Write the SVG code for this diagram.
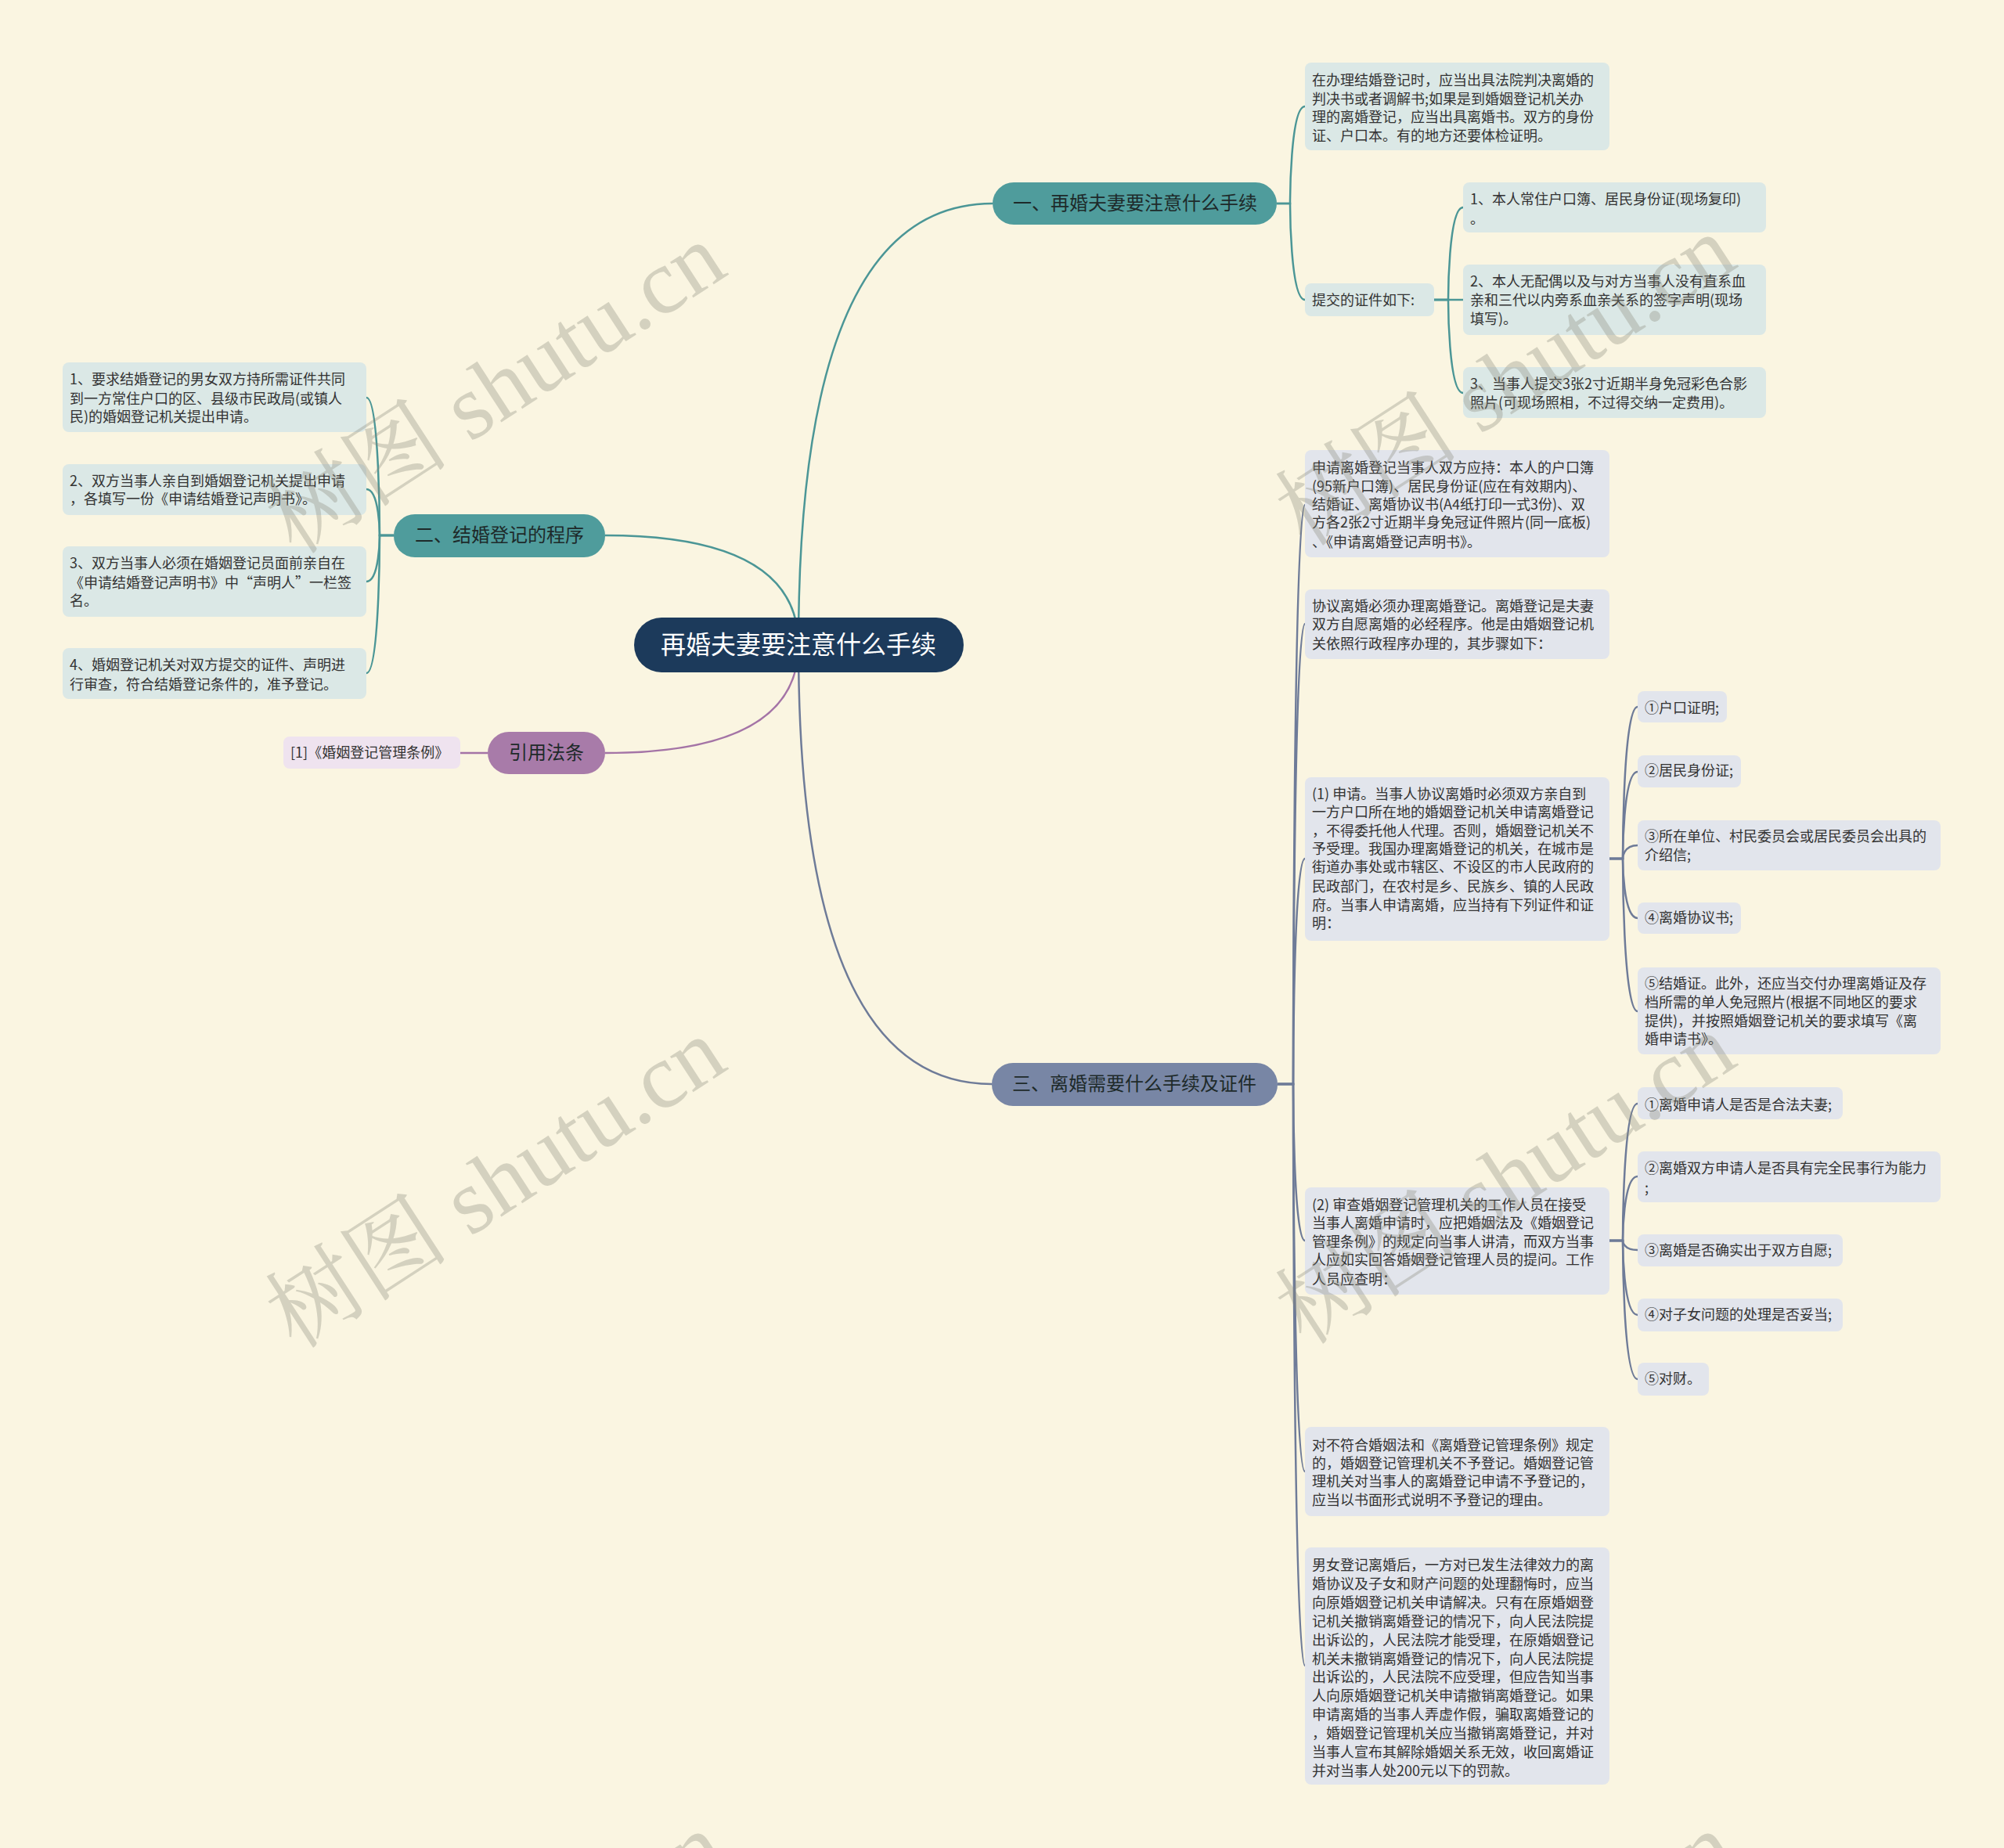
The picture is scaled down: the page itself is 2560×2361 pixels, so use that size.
<svg xmlns="http://www.w3.org/2000/svg" width="2560" height="2361" viewBox="0 0 2560 2361">
<style>
text{font-family:"Noto Sans CJK SC","Noto Sans",sans-serif}
.lf{font-size:18px;fill:#333}
.br{font-size:24px;fill:#1e2a2a;text-anchor:middle}
.rt{font-size:32px;fill:#ffffff;text-anchor:middle}
.t1{fill:#dbe8e6}
.t3{fill:#e2e5ec}
.tq{fill:#efe3ef}
.cT{fill:none;stroke:#4b9696;stroke-width:2.5}
.cS{fill:none;stroke:#6e7b98;stroke-width:2.5}
.cP{fill:none;stroke:#a474a6;stroke-width:2.5}
.wm{font-family:"Liberation Serif","Noto Serif CJK SC","Noto Sans CJK SC",serif;font-size:118px;fill:#8a8a7a;fill-opacity:0.33;text-anchor:middle}
</style>
<rect width="2560" height="2361" fill="#faf5e1"/>

<g id="connectors">
  <path class="cT" d="M1020 824 Q1020 260 1268 260"/>
  <path class="cT" d="M1020 824 Q1020 684 773 684"/>
  <path class="cP" d="M1020 824 Q1020 962 773 962"/>
  <path class="cS" d="M1020 824 Q1020 1385 1267 1385"/>
  <path class="cT" d="M1631 260 H1648 C1648 260 1648 136 1667 136"/>
  <path class="cT" d="M1631 260 H1648 C1648 260 1648 383 1667 383"/>
  <path class="cT" d="M1832 383 H1850 C1850 383 1850 265 1869 265"/>
  <path class="cT" d="M1832 383 H1869"/>
  <path class="cT" d="M1832 383 H1850 C1850 383 1850 502 1869 502"/>
  <path class="cT" d="M503 684 H485 C485 684 485 508 468 508"/>
  <path class="cT" d="M503 684 H485 C485 684 485 625 468 625"/>
  <path class="cT" d="M503 684 H485 C485 684 485 743 468 743"/>
  <path class="cT" d="M503 684 H485 C485 684 485 860 468 860"/>
  <path class="cP" d="M623 962 H588"/>
  <path class="cS" d="M1632 1385 H1652 C1652 1385 1652 645 1667 645"/>
  <path class="cS" d="M1632 1385 H1652 C1652 1385 1652 797 1667 797"/>
  <path class="cS" d="M1632 1385 H1652 C1652 1385 1652 1097 1667 1097"/>
  <path class="cS" d="M1632 1385 H1652 C1652 1385 1652 1585 1667 1585"/>
  <path class="cS" d="M1632 1385 H1652 C1652 1385 1652 1880 1667 1880"/>
  <path class="cS" d="M1632 1385 H1652 C1652 1385 1652 2128 1667 2128"/>
  <path class="cS" d="M2056 1097 H2073 C2073 1097 2073 903 2092 903"/>
  <path class="cS" d="M2056 1097 H2073 C2073 1097 2073 986 2092 986"/>
  <path class="cS" d="M2056 1097 H2073 C2073 1097 2073 1080 2092 1080"/>
  <path class="cS" d="M2056 1097 H2073 C2073 1097 2073 1173 2092 1173"/>
  <path class="cS" d="M2056 1097 H2073 C2073 1097 2073 1292 2092 1292"/>
  <path class="cS" d="M2056 1585 H2073 C2073 1585 2073 1410 2092 1410"/>
  <path class="cS" d="M2056 1585 H2073 C2073 1585 2073 1503 2092 1503"/>
  <path class="cS" d="M2056 1585 H2073 C2073 1585 2073 1597 2092 1597"/>
  <path class="cS" d="M2056 1585 H2073 C2073 1585 2073 1680 2092 1680"/>
  <path class="cS" d="M2056 1585 H2073 C2073 1585 2073 1762 2092 1762"/>
</g>

<g id="root">
  <rect x="810" y="789" width="421" height="70" rx="35" fill="#1c3a5b"/>
  <text class="rt" x="1020" y="835">再婚夫妻要注意什么手续</text>
</g>

<g id="b1">
  <rect x="1268" y="233" width="363" height="54" rx="27" fill="#4f9c9c"/>
  <text class="br" x="1450" y="268">一、再婚夫妻要注意什么手续</text>
</g>
<g id="b1a">
  <rect class="t1" x="1667" y="80" width="389" height="112" rx="8"/>
  <text class="lf" x="1676"><tspan x="1676" y="109">在办理结婚登记时，应当出具法院判决离婚的</tspan><tspan x="1676" y="133">判决书或者调解书;如果是到婚姻登记机关办</tspan><tspan x="1676" y="156">理的离婚登记，应当出具离婚书。双方的身份</tspan><tspan x="1676" y="180">证、户口本。有的地方还要体检证明。</tspan></text>
</g>
<g id="b1b">
  <rect class="t1" x="1667" y="362" width="165" height="42" rx="8"/>
  <text class="lf" x="1676" y="390">提交的证件如下:</text>
</g>
<g id="b1b1">
  <rect class="t1" x="1869" y="233" width="387" height="64" rx="8"/>
  <text class="lf"><tspan x="1878" y="261">1、本人常住户口簿、居民身份证(现场复印)</tspan><tspan x="1878" y="286">。</tspan></text>
</g>
<g id="b1b2">
  <rect class="t1" x="1869" y="338" width="387" height="90" rx="8"/>
  <text class="lf"><tspan x="1878" y="366">2、本人无配偶以及与对方当事人没有直系血</tspan><tspan x="1878" y="390">亲和三代以内旁系血亲关系的签字声明(现场</tspan><tspan x="1878" y="414">填写)。</tspan></text>
</g>
<g id="b1b3">
  <rect class="t1" x="1869" y="469" width="387" height="65" rx="8"/>
  <text class="lf"><tspan x="1878" y="497">3、当事人提交3张2寸近期半身免冠彩色合影</tspan><tspan x="1878" y="521">照片(可现场照相，不过得交纳一定费用)。</tspan></text>
</g>

<g id="b2">
  <rect x="503" y="657" width="270" height="55" rx="27" fill="#4f9c9c"/>
  <text class="br" x="638" y="692">二、结婚登记的程序</text>
</g>
<g id="b2l1">
  <rect class="t1" x="80" y="463" width="388" height="89" rx="8"/>
  <text class="lf"><tspan x="89" y="491">1、要求结婚登记的男女双方持所需证件共同</tspan><tspan x="89" y="516">到一方常住户口的区、县级市民政局(或镇人</tspan><tspan x="89" y="539">民)的婚姻登记机关提出申请。</tspan></text>
</g>
<g id="b2l2">
  <rect class="t1" x="80" y="593" width="388" height="65" rx="8"/>
  <text class="lf"><tspan x="89" y="621">2、双方当事人亲自到婚姻登记机关提出申请</tspan><tspan x="89" y="644">，各填写一份《申请结婚登记声明书》。</tspan></text>
</g>
<g id="b2l3">
  <rect class="t1" x="80" y="698" width="388" height="90" rx="8"/>
  <text class="lf"><tspan x="89" y="726">3、双方当事人必须在婚姻登记员面前亲自在</tspan><tspan x="89" y="751">《申请结婚登记声明书》中“声明人”一栏签</tspan><tspan x="89" y="774">名。</tspan></text>
</g>
<g id="b2l4">
  <rect class="t1" x="80" y="828" width="388" height="65" rx="8"/>
  <text class="lf"><tspan x="89" y="856">4、婚姻登记机关对双方提交的证件、声明进</tspan><tspan x="89" y="881">行审查，符合结婚登记条件的，准予登记。</tspan></text>
</g>

<g id="bq">
  <rect x="623" y="935" width="150" height="54" rx="27" fill="#a87ba9"/>
  <text class="br" x="698" y="970">引用法条</text>
</g>
<g id="bq1">
  <rect class="tq" x="362" y="941" width="226" height="41" rx="8"/>
  <text class="lf" x="371" y="968">[1]《婚姻登记管理条例》</text>
</g>

<g id="b3">
  <rect x="1267" y="1358" width="365" height="55" rx="27" fill="#7886a5"/>
  <text class="br" x="1449" y="1393">三、离婚需要什么手续及证件</text>
</g>
<g id="c1">
  <rect class="t3" x="1667" y="575" width="389" height="137" rx="8"/>
  <text class="lf"><tspan x="1676" y="604">申请离婚登记当事人双方应持：本人的户口簿</tspan><tspan x="1676" y="628">(95新户口簿)、居民身份证(应在有效期内)、</tspan><tspan x="1676" y="651">结婚证、离婚协议书(A4纸打印一式3份)、双</tspan><tspan x="1676" y="674">方各2张2寸近期半身免冠证件照片(同一底板)</tspan><tspan x="1676" y="699">、《申请离婚登记声明书》。</tspan></text>
</g>
<g id="c2">
  <rect class="t3" x="1667" y="753" width="389" height="89" rx="8"/>
  <text class="lf"><tspan x="1676" y="781">协议离婚必须办理离婚登记。离婚登记是夫妻</tspan><tspan x="1676" y="804">双方自愿离婚的必经程序。他是由婚姻登记机</tspan><tspan x="1676" y="829">关依照行政程序办理的，其步骤如下：</tspan></text>
</g>
<g id="c3">
  <rect class="t3" x="1667" y="993" width="389" height="209" rx="8"/>
  <text class="lf"><tspan x="1676" y="1021">(1) 申请。当事人协议离婚时必须双方亲自到</tspan><tspan x="1676" y="1044">一方户口所在地的婚姻登记机关申请离婚登记</tspan><tspan x="1676" y="1068">，不得委托他人代理。否则，婚姻登记机关不</tspan><tspan x="1676" y="1091">予受理。我国办理离婚登记的机关，在城市是</tspan><tspan x="1676" y="1114">街道办事处或市辖区、不设区的市人民政府的</tspan><tspan x="1676" y="1139">民政部门，在农村是乡、民族乡、镇的人民政</tspan><tspan x="1676" y="1163">府。当事人申请离婚，应当持有下列证件和证</tspan><tspan x="1676" y="1186">明：</tspan></text>
</g>
<g id="d1">
  <rect class="t3" x="2092" y="883" width="114" height="40" rx="8"/>
  <text class="lf" x="2101" y="911">①户口证明;</text>
</g>
<g id="d2">
  <rect class="t3" x="2092" y="965" width="132" height="41" rx="8"/>
  <text class="lf" x="2101" y="991">②居民身份证;</text>
</g>
<g id="d3">
  <rect class="t3" x="2092" y="1048" width="387" height="64" rx="8"/>
  <text class="lf"><tspan x="2101" y="1075">③所在单位、村民委员会或居民委员会出具的</tspan><tspan x="2101" y="1099">介绍信;</tspan></text>
</g>
<g id="d4">
  <rect class="t3" x="2092" y="1153" width="132" height="40" rx="8"/>
  <text class="lf" x="2101" y="1179">④离婚协议书;</text>
</g>
<g id="d5">
  <rect class="t3" x="2092" y="1236" width="387" height="111" rx="8"/>
  <text class="lf"><tspan x="2101" y="1263">⑤结婚证。此外，还应当交付办理离婚证及存</tspan><tspan x="2101" y="1287">档所需的单人免冠照片(根据不同地区的要求</tspan><tspan x="2101" y="1311">提供)，并按照婚姻登记机关的要求填写《离</tspan><tspan x="2101" y="1334">婚申请书》。</tspan></text>
</g>
<g id="c4">
  <rect class="t3" x="1667" y="1517" width="389" height="137" rx="8"/>
  <text class="lf"><tspan x="1676" y="1546">(2) 审查婚姻登记管理机关的工作人员在接受</tspan><tspan x="1676" y="1569">当事人离婚申请时，应把婚姻法及《婚姻登记</tspan><tspan x="1676" y="1593">管理条例》的规定向当事人讲清，而双方当事</tspan><tspan x="1676" y="1616">人应如实回答婚姻登记管理人员的提问。工作</tspan><tspan x="1676" y="1641">人员应查明：</tspan></text>
</g>
<g id="e1">
  <rect class="t3" x="2092" y="1389" width="262" height="41" rx="8"/>
  <text class="lf" x="2101" y="1418">①离婚申请人是否是合法夫妻;</text>
</g>
<g id="e2">
  <rect class="t3" x="2092" y="1471" width="387" height="65" rx="8"/>
  <text class="lf"><tspan x="2101" y="1499">②离婚双方申请人是否具有完全民事行为能力</tspan><tspan x="2101" y="1524">;</tspan></text>
</g>
<g id="e3">
  <rect class="t3" x="2092" y="1577" width="262" height="41" rx="8"/>
  <text class="lf" x="2101" y="1604">③离婚是否确实出于双方自愿;</text>
</g>
<g id="e4">
  <rect class="t3" x="2092" y="1659" width="262" height="42" rx="8"/>
  <text class="lf" x="2101" y="1686">④对子女问题的处理是否妥当;</text>
</g>
<g id="e5">
  <rect class="t3" x="2092" y="1741" width="91" height="42" rx="8"/>
  <text class="lf" x="2101" y="1768">⑤对财。</text>
</g>
<g id="c5">
  <rect class="t3" x="1667" y="1823" width="389" height="114" rx="8"/>
  <text class="lf"><tspan x="1676" y="1853">对不符合婚姻法和《离婚登记管理条例》规定</tspan><tspan x="1676" y="1876">的，婚姻登记管理机关不予登记。婚姻登记管</tspan><tspan x="1676" y="1899">理机关对当事人的离婚登记申请不予登记的，</tspan><tspan x="1676" y="1923">应当以书面形式说明不予登记的理由。</tspan></text>
</g>
<g id="c6">
  <rect class="t3" x="1667" y="1977" width="389" height="303" rx="8"/>
  <text class="lf"><tspan x="1676" y="2006">男女登记离婚后，一方对已发生法律效力的离</tspan><tspan x="1676" y="2030">婚协议及子女和财产问题的处理翻悔时，应当</tspan><tspan x="1676" y="2054">向原婚姻登记机关申请解决。只有在原婚姻登</tspan><tspan x="1676" y="2078">记机关撤销离婚登记的情况下，向人民法院提</tspan><tspan x="1676" y="2102">出诉讼的，人民法院才能受理，在原婚姻登记</tspan><tspan x="1676" y="2126">机关未撤销离婚登记的情况下，向人民法院提</tspan><tspan x="1676" y="2149">出诉讼的，人民法院不应受理，但应告知当事</tspan><tspan x="1676" y="2173">人向原婚姻登记机关申请撤销离婚登记。如果</tspan><tspan x="1676" y="2197">申请离婚的当事人弄虚作假，骗取离婚登记的</tspan><tspan x="1676" y="2221">，婚姻登记管理机关应当撤销离婚登记，并对</tspan><tspan x="1676" y="2245">当事人宣布其解除婚姻关系无效，收回离婚证</tspan><tspan x="1676" y="2269">并对当事人处200元以下的罚款。</tspan></text>
</g>

<g id="watermark">
  <text class="wm" transform="translate(655 530) rotate(-33)">树图 shutu.cn</text>
  <text class="wm" transform="translate(655 1545) rotate(-33)">树图 shutu.cn</text>
  <text class="wm" transform="translate(1945 520) rotate(-33)">树图 shutu.cn</text>
  <text class="wm" transform="translate(1945 1540) rotate(-33)">树图 shutu.cn</text>
  <text class="wm" transform="translate(655 2560) rotate(-33)">树图 shutu.cn</text>
  <text class="wm" transform="translate(1945 2560) rotate(-33)">树图 shutu.cn</text>
</g>
</svg>
